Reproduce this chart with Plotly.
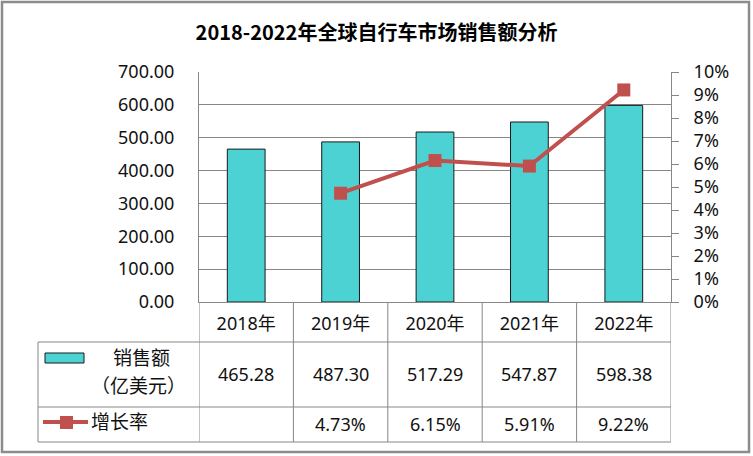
import plotly.graph_objects as go

years = ["2018年", "2019年", "2020年", "2021年", "2022年"]
sales = [465.28, 487.30, 517.29, 547.87, 598.38]
growth = [None, 4.73, 6.15, 5.91, 9.22]
sales_labels = ["465.28", "487.30", "517.29", "547.87", "598.38"]
growth_labels = ["", "4.73%", "6.15%", "5.91%", "9.22%"]
left_ticks = [0, 100, 200, 300, 400, 500, 600, 700]
right_ticks = list(range(0, 11))

W, H = 753, 456
L, R, T, B = 199, 82, 72, 154
PW = W - L - R
PH = H - T - B

def px(x):
    return (x - L) / PW

def py(y):
    return (H - B - y) / PH

FONT = "Noto Sans, Noto Sans CJK SC, sans-serif"
GRID = "#878787"
BAR = "#4dd2d4"
RED = "#c0504d"

fig = go.Figure()
fig.add_trace(go.Bar(x=years, y=sales, marker=dict(color=BAR, line=dict(color="#1a1a1a", width=1)),
                     name="销售额（亿美元）", yaxis="y"))
fig.add_trace(go.Scatter(x=years, y=growth, mode="lines+markers", yaxis="y2",
                         line=dict(color=RED, width=4),
                         marker=dict(symbol="square", size=13, color=RED), name="增长率"))

shapes = []
annotations = []

def line(x0, y0, x1, y1, color=GRID, width=1):
    shapes.append(dict(type="line", xref="paper", yref="paper", x0=px(x0), y0=py(y0),
                       x1=px(x1), y1=py(y1), line=dict(color=color, width=width), layer="above"))

def text(x, y, s, size=18, xanchor="center", xref="paper"):
    annotations.append(dict(x=x, y=py(y), xref=xref, yref="paper", text=s, showarrow=False,
                            xanchor=xanchor, yanchor="middle",
                            font=dict(family=FONT, size=size, color="#111")))

# outer border
shapes.append(dict(type="rect", xref="paper", yref="paper", x0=px(2), y0=py(2), x1=px(749), y1=py(452),
                   line=dict(color="#8c8c8c", width=2.5), layer="below"))

# table grid
row_tops = [302, 342, 407, 442]
for y in row_tops[1:]:
    line(38, y, 671, y)
for i in range(len(years) + 1):
    shapes.append(dict(type="line", xref="x", yref="paper", x0=i - 0.5, x1=i - 0.5,
                       y0=py(302), y1=py(442), line=dict(color=GRID, width=1), layer="above"))
line(38, 342, 38, 442)

# table values
for i, (s, g) in enumerate(zip(sales_labels, growth_labels)):
    text(years[i], 374, s, xref="x")
    if g:
        text(years[i], 424, g, xref="x")

# legend cells
shapes.append(dict(type="rect", xref="paper", yref="paper", x0=px(45), x1=px(84), y0=py(353), y1=py(363),
                   fillcolor=BAR, line=dict(color="#1a1a1a", width=1)))
text(px(141), 358, "销售额", size=19)
text(px(138), 386, "（亿美元）", size=19)
line(43, 422, 88, 422, color=RED, width=4)
shapes.append(dict(type="rect", xref="paper", yref="paper", x0=px(60), x1=px(73), y0=py(416), y1=py(429),
                   fillcolor=RED, line=dict(color=RED, width=0)))
text(px(89), 422, "增长率", size=19, xanchor="left")

fig.update_layout(
    width=W, height=H, autosize=False,
    margin=dict(l=L, r=R, t=T, b=B, pad=0, autoexpand=False),
    paper_bgcolor="white", plot_bgcolor="white",
    showlegend=False, bargap=0.6,
    title=dict(text="<b>2018-2022年全球自行车市场销售额分析</b>", x=0.5, xanchor="center",
               y=1 - 33 / H, yanchor="middle", automargin=False,
               font=dict(family="Noto Sans CJK SC, sans-serif", size=20, color="#000")),
    font=dict(family=FONT, size=18, color="#111"),
    xaxis=dict(type="category", range=[-0.5, 4.5], showgrid=False, showline=True, linecolor=GRID,
               ticks="", ticklabelstandoff=5, tickfont=dict(size=18), automargin=False),
    yaxis=dict(range=[0, 700], tickvals=left_ticks, tickformat=".2f", showgrid=True, gridcolor=GRID,
               gridwidth=1, showline=True, linecolor=GRID, ticks="", ticklabelstandoff=20,
               zeroline=False, automargin=False),
    yaxis2=dict(range=[0, 10], tickvals=right_ticks, ticktext=[f"{v}%" for v in right_ticks],
                overlaying="y", side="right", showgrid=False, showline=True, linecolor=GRID,
                ticks="outside", ticklen=7, tickcolor=GRID, ticklabelstandoff=11, zeroline=False,
                automargin=False),
    shapes=shapes, annotations=annotations,
)

fig.write_html("out.html", config={"displayModeBar": False},
               post_script="document.body.style.margin='0';document.body.style.overflow='hidden';")
